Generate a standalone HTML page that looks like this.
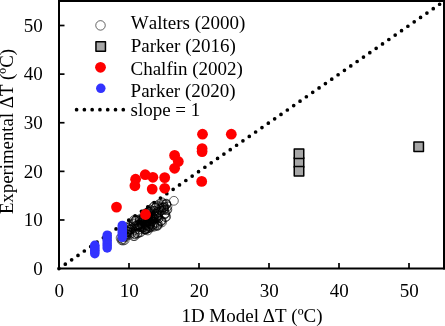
<!DOCTYPE html>
<html><head><meta charset="utf-8"><title>chart</title>
<style>html,body{margin:0;padding:0;background:#fff;overflow:hidden}svg{display:block;will-change:transform}text{font-kerning:none;font-variant-ligatures:none;font-family:"Liberation Serif",serif;font-size:19px;fill:#000}</style></head><body>
<svg width="445" height="326" viewBox="0 0 445 326">
<rect x="0" y="0" width="445" height="326" fill="#fff"/>
<line x1="58.96" y1="268.60" x2="443.96" y2="1.20" stroke="#000" stroke-width="3.7" stroke-linecap="round" stroke-dasharray="0 7.724"/>
<g fill="none" stroke="#000" stroke-width="0.6">
<circle cx="164.5" cy="206.8" r="4.4"/>
<circle cx="133.8" cy="223.3" r="4.4"/>
<circle cx="128.8" cy="226.1" r="4.4"/>
<circle cx="122.4" cy="235.9" r="4.4"/>
<circle cx="147.5" cy="228.5" r="4.4"/>
<circle cx="154.0" cy="215.4" r="4.4"/>
<circle cx="160.6" cy="220.9" r="4.4"/>
<circle cx="144.8" cy="229.5" r="4.4"/>
<circle cx="139.4" cy="224.6" r="4.4"/>
<circle cx="127.4" cy="231.2" r="4.4"/>
<circle cx="147.8" cy="214.4" r="4.4"/>
<circle cx="129.3" cy="228.9" r="4.4"/>
<circle cx="143.6" cy="218.6" r="4.4"/>
<circle cx="159.2" cy="206.5" r="4.4"/>
<circle cx="129.3" cy="234.9" r="4.4"/>
<circle cx="143.5" cy="221.2" r="4.4"/>
<circle cx="144.7" cy="213.6" r="4.4"/>
<circle cx="151.6" cy="221.6" r="4.4"/>
<circle cx="139.2" cy="232.6" r="4.4"/>
<circle cx="139.3" cy="229.5" r="4.4"/>
<circle cx="152.7" cy="224.7" r="4.4"/>
<circle cx="147.9" cy="212.0" r="4.4"/>
<circle cx="138.6" cy="227.2" r="4.4"/>
<circle cx="146.5" cy="222.7" r="4.4"/>
<circle cx="144.6" cy="229.0" r="4.4"/>
<circle cx="149.5" cy="228.0" r="4.4"/>
<circle cx="142.9" cy="227.4" r="4.4"/>
<circle cx="154.4" cy="226.6" r="4.4"/>
<circle cx="144.1" cy="217.0" r="4.4"/>
<circle cx="149.9" cy="211.5" r="4.4"/>
<circle cx="127.7" cy="234.4" r="4.4"/>
<circle cx="138.2" cy="224.7" r="4.4"/>
<circle cx="152.4" cy="216.6" r="4.4"/>
<circle cx="150.2" cy="224.1" r="4.4"/>
<circle cx="148.8" cy="226.0" r="4.4"/>
<circle cx="139.9" cy="219.0" r="4.4"/>
<circle cx="145.5" cy="218.4" r="4.4"/>
<circle cx="135.7" cy="220.7" r="4.4"/>
<circle cx="151.4" cy="219.4" r="4.4"/>
<circle cx="158.9" cy="211.8" r="4.4"/>
<circle cx="136.0" cy="225.8" r="4.4"/>
<circle cx="152.5" cy="225.6" r="4.4"/>
<circle cx="127.8" cy="231.6" r="4.4"/>
<circle cx="147.3" cy="215.3" r="4.4"/>
<circle cx="147.1" cy="220.2" r="4.4"/>
<circle cx="157.2" cy="225.1" r="4.4"/>
<circle cx="142.3" cy="224.5" r="4.4"/>
<circle cx="151.9" cy="220.9" r="4.4"/>
<circle cx="154.8" cy="219.0" r="4.4"/>
<circle cx="148.0" cy="221.5" r="4.4"/>
<circle cx="124.6" cy="234.8" r="4.4"/>
<circle cx="155.6" cy="207.6" r="4.4"/>
<circle cx="163.4" cy="207.6" r="4.4"/>
<circle cx="137.0" cy="225.5" r="4.4"/>
<circle cx="166.2" cy="216.8" r="4.4"/>
<circle cx="154.9" cy="208.2" r="4.4"/>
<circle cx="148.3" cy="226.3" r="4.4"/>
<circle cx="148.1" cy="212.2" r="4.4"/>
<circle cx="133.5" cy="236.1" r="4.4"/>
<circle cx="137.4" cy="233.0" r="4.4"/>
<circle cx="154.2" cy="211.0" r="4.4"/>
<circle cx="137.9" cy="226.0" r="4.4"/>
<circle cx="146.5" cy="225.2" r="4.4"/>
<circle cx="156.9" cy="217.6" r="4.4"/>
<circle cx="124.1" cy="236.6" r="4.4"/>
<circle cx="151.3" cy="218.9" r="4.4"/>
<circle cx="127.8" cy="228.1" r="4.4"/>
<circle cx="136.9" cy="220.4" r="4.4"/>
<circle cx="158.8" cy="218.2" r="4.4"/>
<circle cx="146.6" cy="215.9" r="4.4"/>
<circle cx="125.6" cy="236.9" r="4.4"/>
<circle cx="166.1" cy="204.5" r="4.4"/>
<circle cx="141.1" cy="222.8" r="4.4"/>
<circle cx="147.6" cy="221.1" r="4.4"/>
<circle cx="139.9" cy="226.4" r="4.4"/>
<circle cx="165.0" cy="214.2" r="4.4"/>
<circle cx="161.0" cy="211.0" r="4.4"/>
<circle cx="149.3" cy="211.8" r="4.4"/>
<circle cx="149.2" cy="219.4" r="4.4"/>
<circle cx="134.8" cy="233.6" r="4.4"/>
<circle cx="153.9" cy="213.4" r="4.4"/>
<circle cx="158.0" cy="223.8" r="4.4"/>
<circle cx="130.3" cy="229.7" r="4.4"/>
<circle cx="142.6" cy="219.4" r="4.4"/>
<circle cx="127.1" cy="233.7" r="4.4"/>
<circle cx="124.7" cy="240.0" r="4.4"/>
<circle cx="149.3" cy="220.9" r="4.4"/>
<circle cx="148.6" cy="216.1" r="4.4"/>
<circle cx="151.2" cy="217.8" r="4.4"/>
<circle cx="161.2" cy="221.2" r="4.4"/>
<circle cx="131.6" cy="233.0" r="4.4"/>
<circle cx="146.2" cy="225.0" r="4.4"/>
<circle cx="140.2" cy="220.7" r="4.4"/>
<circle cx="139.3" cy="225.2" r="4.4"/>
<circle cx="146.7" cy="213.3" r="4.4"/>
<circle cx="135.2" cy="229.9" r="4.4"/>
<circle cx="156.9" cy="225.9" r="4.4"/>
<circle cx="147.8" cy="217.5" r="4.4"/>
<circle cx="154.5" cy="223.7" r="4.4"/>
<circle cx="134.8" cy="226.3" r="4.4"/>
<circle cx="130.1" cy="226.7" r="4.4"/>
<circle cx="141.8" cy="218.8" r="4.4"/>
<circle cx="164.6" cy="214.0" r="4.4"/>
<circle cx="150.5" cy="209.5" r="4.4"/>
<circle cx="150.1" cy="227.2" r="4.4"/>
<circle cx="161.6" cy="220.7" r="4.4"/>
<circle cx="167.5" cy="206.4" r="4.4"/>
<circle cx="139.8" cy="220.0" r="4.4"/>
<circle cx="157.1" cy="205.6" r="4.4"/>
<circle cx="147.7" cy="216.8" r="4.4"/>
<circle cx="150.2" cy="216.8" r="4.4"/>
<circle cx="156.1" cy="213.8" r="4.4"/>
<circle cx="144.7" cy="216.0" r="4.4"/>
<circle cx="165.3" cy="217.1" r="4.4"/>
<circle cx="145.6" cy="229.2" r="4.4"/>
<circle cx="149.2" cy="213.8" r="4.4"/>
<circle cx="162.0" cy="222.4" r="4.4"/>
<circle cx="147.6" cy="217.3" r="4.4"/>
<circle cx="158.1" cy="216.3" r="4.4"/>
<circle cx="134.0" cy="220.0" r="4.4"/>
<circle cx="143.0" cy="220.5" r="4.4"/>
<circle cx="154.5" cy="221.9" r="4.4"/>
<circle cx="140.7" cy="232.3" r="4.4"/>
<circle cx="152.5" cy="226.8" r="4.4"/>
<circle cx="129.2" cy="232.4" r="4.4"/>
<circle cx="135.0" cy="220.5" r="4.4"/>
<circle cx="153.5" cy="207.1" r="4.4"/>
<circle cx="163.7" cy="210.0" r="4.4"/>
<circle cx="166.2" cy="203.6" r="4.4"/>
<circle cx="152.4" cy="216.8" r="4.4"/>
<circle cx="144.7" cy="224.8" r="4.4"/>
<circle cx="133.6" cy="224.3" r="4.4"/>
<circle cx="147.8" cy="230.5" r="4.4"/>
<circle cx="144.8" cy="229.5" r="4.4"/>
<circle cx="158.4" cy="218.5" r="4.4"/>
<circle cx="136.2" cy="219.7" r="4.4"/>
<circle cx="156.8" cy="222.7" r="4.4"/>
<circle cx="161.1" cy="207.7" r="4.4"/>
<circle cx="145.4" cy="224.2" r="4.4"/>
<circle cx="134.6" cy="234.3" r="4.4"/>
<circle cx="140.5" cy="226.6" r="4.4"/>
<circle cx="134.6" cy="236.1" r="4.4"/>
<circle cx="164.3" cy="209.2" r="4.4"/>
<circle cx="127.8" cy="230.1" r="4.4"/>
<circle cx="150.9" cy="210.9" r="4.4"/>
<circle cx="154.3" cy="206.0" r="4.4"/>
<circle cx="143.8" cy="227.3" r="4.4"/>
<circle cx="166.6" cy="210.3" r="4.4"/>
<circle cx="142.2" cy="226.3" r="4.4"/>
<circle cx="145.3" cy="228.8" r="4.4"/>
<circle cx="145.4" cy="223.0" r="4.4"/>
<circle cx="148.3" cy="227.9" r="4.4"/>
<circle cx="127.8" cy="232.0" r="4.4"/>
<circle cx="125.3" cy="230.0" r="4.4"/>
<circle cx="163.0" cy="204.8" r="4.4"/>
<circle cx="127.1" cy="231.9" r="4.4"/>
<circle cx="140.2" cy="226.8" r="4.4"/>
<circle cx="137.5" cy="233.6" r="4.4"/>
<circle cx="149.2" cy="221.6" r="4.4"/>
<circle cx="157.1" cy="212.3" r="4.4"/>
<circle cx="157.8" cy="225.6" r="4.4"/>
<circle cx="131.8" cy="229.1" r="4.4"/>
<circle cx="129.9" cy="229.3" r="4.4"/>
<circle cx="149.5" cy="212.1" r="4.4"/>
<circle cx="124.8" cy="230.1" r="4.4"/>
<circle cx="158.1" cy="215.3" r="4.4"/>
<circle cx="152.2" cy="221.2" r="4.4"/>
<circle cx="165.3" cy="213.2" r="4.4"/>
<circle cx="163.3" cy="207.5" r="4.4"/>
<circle cx="128.3" cy="227.6" r="4.4"/>
<circle cx="153.3" cy="218.6" r="4.4"/>
<circle cx="153.9" cy="215.5" r="4.4"/>
<circle cx="145.9" cy="229.7" r="4.4"/>
<circle cx="159.6" cy="208.5" r="4.4"/>
<circle cx="152.8" cy="217.2" r="4.4"/>
<circle cx="145.9" cy="219.1" r="4.4"/>
<circle cx="156.7" cy="216.7" r="4.4"/>
<circle cx="161.6" cy="208.1" r="4.4"/>
<circle cx="144.6" cy="222.5" r="4.4"/>
<circle cx="156.4" cy="217.3" r="4.4"/>
<circle cx="154.6" cy="210.7" r="4.4"/>
<circle cx="143.4" cy="218.1" r="4.4"/>
<circle cx="141.8" cy="227.8" r="4.4"/>
<circle cx="150.6" cy="216.3" r="4.4"/>
<circle cx="150.8" cy="223.0" r="4.4"/>
<circle cx="173.9" cy="200.8" r="4.4"/>
<circle cx="121.6" cy="240.2" r="4.4"/>
<circle cx="123.0" cy="240.6" r="4.4"/>
<circle cx="122.4" cy="239.2" r="4.4"/>
<circle cx="120.6" cy="238.0" r="4.4"/>
<circle cx="161.8" cy="202.2" r="4.4"/>
<circle cx="166.3" cy="204.1" r="4.4"/>
<circle cx="158.9" cy="204.3" r="4.4"/>
<circle cx="164.0" cy="207.5" r="4.4"/>
<circle cx="167.4" cy="209.7" r="4.4"/>
<circle cx="163.2" cy="203.4" r="4.4"/>
</g>
<rect x="294.25" y="157.75" width="9.50" height="9.50" fill="#a6a6a6" stroke="#000" stroke-width="1.5" stroke-linejoin="round"/>
<rect x="294.25" y="166.55" width="9.50" height="9.50" fill="#a6a6a6" stroke="#000" stroke-width="1.5" stroke-linejoin="round"/>
<rect x="413.95" y="142.00" width="9.50" height="9.50" fill="#a6a6a6" stroke="#000" stroke-width="1.5" stroke-linejoin="round"/>
<rect x="294.25" y="148.9" width="9.5" height="9.6" fill="#a6a6a6" stroke="#000" stroke-width="1.5" stroke-linejoin="round"/>
<g fill="#ff0000">
<circle cx="202.5" cy="134.2" r="5.4"/>
<circle cx="231.3" cy="134.2" r="5.4"/>
<circle cx="202.1" cy="148.6" r="5.4"/>
<circle cx="202.1" cy="151.6" r="5.4"/>
<circle cx="174.6" cy="155.4" r="5.4"/>
<circle cx="178.3" cy="161.5" r="5.4"/>
<circle cx="174.6" cy="168.3" r="5.4"/>
<circle cx="145.2" cy="174.7" r="5.4"/>
<circle cx="152.9" cy="177.3" r="5.4"/>
<circle cx="135.6" cy="179.2" r="5.4"/>
<circle cx="164.7" cy="177.6" r="5.4"/>
<circle cx="134.9" cy="185.8" r="5.4"/>
<circle cx="152.2" cy="189.1" r="5.4"/>
<circle cx="164.7" cy="188.3" r="5.4"/>
<circle cx="201.7" cy="181.4" r="5.4"/>
<circle cx="116.5" cy="207.1" r="5.4"/>
<circle cx="145.5" cy="214.5" r="5.4"/>
</g>
<g fill="#3333ff">
<circle cx="94.8" cy="245.3" r="4.75"/>
<circle cx="94.8" cy="247.0" r="4.75"/>
<circle cx="94.8" cy="248.7" r="4.75"/>
<circle cx="94.8" cy="250.3" r="4.75"/>
<circle cx="94.8" cy="252.0" r="4.75"/>
<circle cx="94.8" cy="253.7" r="4.75"/>
<circle cx="107.2" cy="235.2" r="4.75"/>
<circle cx="107.2" cy="237.8" r="4.75"/>
<circle cx="107.2" cy="240.3" r="4.75"/>
<circle cx="107.2" cy="242.9" r="4.75"/>
<circle cx="107.2" cy="245.4" r="4.75"/>
<circle cx="107.2" cy="248.0" r="4.75"/>
<circle cx="122.3" cy="225.4" r="4.75"/>
<circle cx="122.3" cy="227.8" r="4.75"/>
<circle cx="122.3" cy="230.2" r="4.75"/>
<circle cx="122.3" cy="232.5" r="4.75"/>
<circle cx="122.3" cy="234.9" r="4.75"/>
<circle cx="122.3" cy="237.3" r="4.75"/>
</g>
<path d="M59 269.6V0.9H444V269.6" fill="none" stroke="#000" stroke-width="2"/>
<line x1="58" y1="268.6" x2="445" y2="268.6" stroke="#000" stroke-width="2"/>
<g stroke="#000" stroke-width="1.7">
<line x1="129.00" y1="268.3" x2="129.00" y2="262.9"/>
<line x1="59" y1="219.98" x2="64.5" y2="219.98"/>
<line x1="199.00" y1="268.3" x2="199.00" y2="262.9"/>
<line x1="59" y1="171.36" x2="64.5" y2="171.36"/>
<line x1="269.00" y1="268.3" x2="269.00" y2="262.9"/>
<line x1="59" y1="122.74" x2="64.5" y2="122.74"/>
<line x1="339.00" y1="268.3" x2="339.00" y2="262.9"/>
<line x1="59" y1="74.12" x2="64.5" y2="74.12"/>
<line x1="409.00" y1="268.3" x2="409.00" y2="262.9"/>
<line x1="59" y1="25.50" x2="64.5" y2="25.50"/>
</g>
<text x="59.20" y="296.6" text-anchor="middle">0</text>
<text x="42.8" y="274.80" text-anchor="end">0</text>
<text x="129.20" y="296.6" text-anchor="middle">10</text>
<text x="42.8" y="226.18" text-anchor="end">10</text>
<text x="199.20" y="296.6" text-anchor="middle">20</text>
<text x="42.8" y="177.56" text-anchor="end">20</text>
<text x="269.20" y="296.6" text-anchor="middle">30</text>
<text x="42.8" y="128.94" text-anchor="end">30</text>
<text x="339.20" y="296.6" text-anchor="middle">40</text>
<text x="42.8" y="80.32" text-anchor="end">40</text>
<text x="409.20" y="296.6" text-anchor="middle">50</text>
<text x="42.8" y="31.70" text-anchor="end">50</text>
<text x="181.4" y="321.9">1D Model <tspan x="262.75">ΔT (ºC)</tspan></text>
<text transform="translate(13.3,131.6) rotate(-90)" text-anchor="middle" textLength="165.05" lengthAdjust="spacingAndGlyphs">Experimental ΔT (ºC)</text>
<circle cx="100.5" cy="25.4" r="4.75" fill="#fff" stroke="#000" stroke-width="0.6"/>
<rect x="95.95" y="41.65" width="9.50" height="9.50" fill="#a6a6a6" stroke="#000" stroke-width="1.5" stroke-linejoin="round"/>
<circle cx="100.5" cy="67.3" r="5.4" fill="#ff0000"/>
<circle cx="100.8" cy="88.3" r="4.75" fill="#3333ff"/>
<line x1="76.6" y1="109.7" x2="124" y2="109.7" stroke="#000" stroke-width="3.7" stroke-linecap="round" stroke-dasharray="0 7.78"/>
<text x="130.8" y="29.1">Walters (2000)</text>
<text x="130.8" y="51.5">Parker (2016)</text>
<text x="130.5" y="74.9">Chalfin (2002)</text>
<text x="130.6" y="97.2">Parker (2020)</text>
<text x="130.5" y="115.5">slope = 1</text>
</svg></body></html>
